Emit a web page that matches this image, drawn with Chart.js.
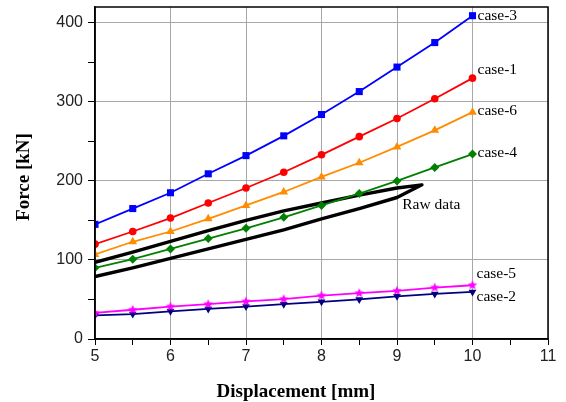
<!DOCTYPE html>
<html><head><meta charset="utf-8">
<script src="https://cdn.jsdelivr.net/npm/chart.js@4/dist/chart.umd.min.js"></script>
<style>html,body{margin:0;padding:0;background:#fff}#wrap{width:566px;height:402px}</style>
</head><body><div id="wrap"><canvas id="c" width="566" height="402"></canvas></div>
<script>
const displacement = [5, 5.5, 6, 6.5, 7, 7.5, 8, 8.5, 9, 9.5, 10];
const case3 = [145, 165, 185, 209, 232, 257, 284, 313, 344, 375, 409];
const case1 = [120, 136, 153, 172, 191, 211, 233, 256, 279, 304, 330];
const case6 = [107, 123, 136, 152, 169, 186, 205, 223, 243, 264, 287];
const case4 = [90, 101, 114, 127, 140, 154, 169, 184, 200, 217, 234];
const case5 = [33, 37, 41, 44, 47.5, 50.5, 55, 58, 61, 65, 68];
const case2 = [30, 31.5, 35, 38, 41, 44, 47, 50, 54, 57, 59.5];
const rawX = [5, 5.5, 6, 6.5, 7, 7.5, 8, 8.5, 9, 9.33, 9, 8.5, 8, 7.5, 7, 6.5, 6, 5.5, 5];
const rawY = [97, 110, 123.5, 137, 150, 162, 172, 182, 191, 195, 179, 165, 152, 138, 126, 114, 102, 90, 79];
const yTicks = [0, 100, 200, 300, 400];
const xTicks = [5, 6, 7, 8, 9, 10, 11];
const xTitle = 'Displacement [mm]';
const yTitle = 'Force [kN]';

function starCanvas(color, r) {
  const c = document.createElement('canvas');
  const s = Math.ceil(r * 2 + 2);
  c.width = s; c.height = s;
  const g = c.getContext('2d');
  g.fillStyle = color;
  g.beginPath();
  for (let i = 0; i < 10; i++) {
    const rad = i % 2 === 0 ? r : r * 0.45;
    const a = -Math.PI / 2 + i * Math.PI / 5;
    const px = s / 2 + rad * Math.cos(a), py = s / 2 + rad * Math.sin(a);
    if (i === 0) g.moveTo(px, py); else g.lineTo(px, py);
  }
  g.closePath(); g.fill();
  return c;
}

function pts(ys) { return displacement.map((x, i) => ({x, y: ys[i]})); }

const series = [
  {label: 'case-3', data: pts(case3), color: '#0000ff', style: 'rect', radius: 5, rot: 0},
  {label: 'case-1', data: pts(case1), color: '#ff0000', style: 'circle', radius: 3.8, rot: 0},
  {label: 'case-6', data: pts(case6), color: '#ff8c00', style: 'triangle', radius: 5, rot: 0},
  {label: 'case-4', data: pts(case4), color: '#008000', style: 'rectRot', radius: 4.5, rot: 0},
  {label: 'case-5', data: pts(case5), color: '#ff00ff', style: starCanvas('#ff00ff', 5), radius: 5, rot: 0},
  {label: 'case-2', data: pts(case2), color: '#000080', style: 'triangle', radius: 4.5, rot: 180}
];

const datasets = series.map(s => ({
  label: s.label, data: s.data, borderColor: s.color, backgroundColor: s.color,
  borderWidth: 1.8, pointStyle: s.style, pointRadius: s.radius, pointRotation: s.rot,
  pointBorderWidth: 0, showLine: true, tension: 0, order: 1
}));
datasets.push({
  label: 'Raw data', data: rawX.map((x, i) => ({x, y: rawY[i]})),
  borderColor: '#000', backgroundColor: '#000', borderWidth: 3.4, pointRadius: 0,
  showLine: true, tension: 0, order: 2, borderJoinStyle: 'round'
});

const labelOffsets = {
  'case-3': [5, 0], 'case-1': [5, -8], 'case-6': [5, -1], 'case-4': [5, -1],
  'case-5': [4, -11], 'case-2': [4, 5]
};

const labelPlugin = {
  id: 'labels',
  afterDatasetsDraw(chart) {
    const ctx = chart.ctx, xs = chart.scales.x, ys = chart.scales.y;
    ctx.save();
    ctx.font = '15.5px "Liberation Serif", "Times New Roman", serif';
    ctx.fillStyle = '#000';
    ctx.textBaseline = 'middle';
    ctx.textAlign = 'left';
    series.forEach(s => {
      const last = s.data[s.data.length - 1];
      const off = labelOffsets[s.label];
      ctx.fillText(s.label, xs.getPixelForValue(last.x) + off[0], ys.getPixelForValue(last.y) + off[1]);
    });
    ctx.fillText('Raw data', xs.getPixelForValue(9.07), ys.getPixelForValue(169));
    ctx.restore();
  },
  afterDraw(chart) {
    const a = chart.chartArea, ctx = chart.ctx;
    ctx.save();
    ctx.strokeStyle = '#000'; ctx.lineWidth = 1.5;
    ctx.strokeRect(a.left, a.top, a.right - a.left, a.bottom - a.top);
    ctx.font = 'bold 19px "Liberation Serif", "Times New Roman", serif';
    ctx.fillStyle = '#000';
    ctx.textAlign = 'center';
    ctx.textBaseline = 'middle';
    ctx.fillText(xTitle, 296, 392);
    ctx.translate(24, 177);
    ctx.rotate(-Math.PI / 2);
    ctx.fillText(yTitle, 0, 0);
    ctx.restore();
  }
};

new Chart(document.getElementById('c'), {
  type: 'scatter',
  data: {datasets},
  plugins: [labelPlugin],
  options: {
    responsive: false, animation: false,
    layout: {padding: {top: 7, right: 18, left: 0, bottom: 0}},
    plugins: {legend: {display: false}, tooltip: {enabled: false}},
    scales: {
      x: {
        type: 'linear', min: 5, max: 11,
        afterFit(scale) { scale.height = 63; scale.paddingLeft = 0; scale.paddingRight = 0; },
        ticks: {
          stepSize: 0.5, includeBounds: false, color: '#222', padding: 2,
          font: {family: '"Liberation Sans", Arial, sans-serif', size: 16},
          callback: v => xTicks.includes(v) ? String(v) : ''
        },
        grid: {
          color: c => (c.tick && Number.isInteger(c.tick.value)) ? '#a8a8a8' : 'rgba(0,0,0,0)',
          tickColor: '#000', tickLength: 6, lineWidth: 1
        },
        border: {color: '#000', width: 1.5},
        title: {display: false}
      },
      y: {
        type: 'linear', min: 0, max: 420,
        afterFit(scale) { scale.width = 95; scale.paddingTop = 0; scale.paddingBottom = 0; },
        ticks: {
          stepSize: 50, includeBounds: false, color: '#222', padding: 5,
          font: {family: '"Liberation Sans", Arial, sans-serif', size: 16},
          callback: v => yTicks.includes(v) ? String(v) : ''
        },
        grid: {
          color: c => (c.tick && c.tick.value % 100 === 0) ? '#a8a8a8' : 'rgba(0,0,0,0)',
          tickColor: '#000', tickLength: 7, lineWidth: 1
        },
        border: {color: '#000', width: 1.5},
        title: {display: false}
      }
    }
  }
});
</script></body></html>
